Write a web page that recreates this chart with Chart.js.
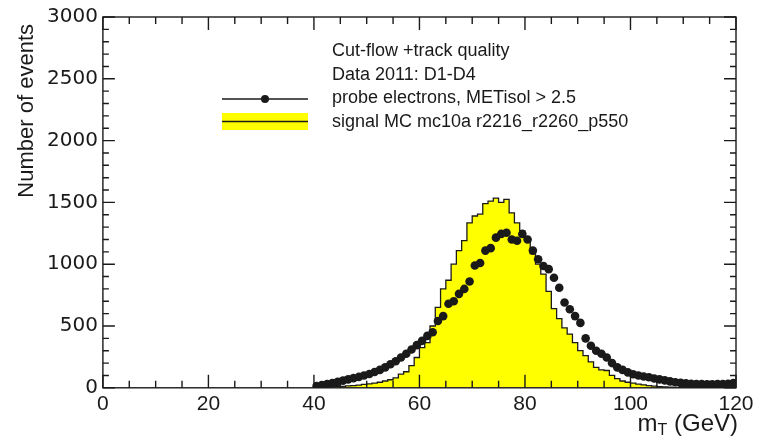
<!DOCTYPE html>
<html lang="en">
<head>
<meta charset="UTF-8">
<title>Transverse mass, probe electrons</title>
<script src="https://cdn.jsdelivr.net/npm/chart.js"></script>
<style>
  html, body { margin: 0; padding: 0; background: #fff; }
  #box { width: 761px; height: 436px; }
</style>
</head>
<body>
<div id="box"><canvas id="mtChart"></canvas></div>

<script>
// bin centres in GeV (1 GeV bins from 40 to 120)
const mtBins = [
  40.5, 41.5, 42.5, 43.5, 44.5, 45.5, 46.5, 47.5, 48.5, 49.5,
  50.5, 51.5, 52.5, 53.5, 54.5, 55.5, 56.5, 57.5, 58.5, 59.5,
  60.5, 61.5, 62.5, 63.5, 64.5, 65.5, 66.5, 67.5, 68.5, 69.5,
  70.5, 71.5, 72.5, 73.5, 74.5, 75.5, 76.5, 77.5, 78.5, 79.5,
  80.5, 81.5, 82.5, 83.5, 84.5, 85.5, 86.5, 87.5, 88.5, 89.5,
  90.5, 91.5, 92.5, 93.5, 94.5, 95.5, 96.5, 97.5, 98.5, 99.5,
  100.5, 101.5, 102.5, 103.5, 104.5, 105.5, 106.5, 107.5, 108.5, 109.5,
  110.5, 111.5, 112.5, 113.5, 114.5, 115.5, 116.5, 117.5, 118.5, 119.5
];

// signal MC (yellow histogram)
const mcSignal = [
  3, 4, 5, 6, 8, 10, 12, 15, 18, 22,
  28, 32, 38, 45, 55, 65, 80, 110, 130, 180,
  245, 325, 365, 500, 650, 800, 870, 1000, 1110, 1190,
  1335, 1390, 1405, 1490, 1510, 1535, 1500, 1525, 1415, 1335,
  1270, 1190, 1085, 1000, 920, 780, 640, 560, 485, 435,
  365, 300, 260, 210, 165, 145, 140, 100, 75, 55,
  45, 38, 30, 24, 18, 14, 10, 7, 5, 4,
  3, 3, 2, 2, 2, 2, 2, 1, 1, 1
];

// probe electrons, METisol > 2.5 (data points)
const probeData = [
  15, 22, 30, 38, 48, 58, 68, 78, 88, 100,
  112, 128, 145, 165, 190, 215, 245, 275, 310, 345,
  380, 420, 450, 540, 580, 680, 700, 760, 800, 860,
  990, 1010, 1110, 1130, 1215, 1245, 1255, 1200, 1190, 1245,
  1200, 1110, 1040, 985, 960, 890, 810, 690, 635, 580,
  525, 400, 340, 300, 275, 245, 200, 165, 145, 125,
  110, 100, 92, 85, 75, 68, 60, 52, 45, 40,
  36, 33, 30, 30, 28, 28, 30, 30, 32, 38
];

const xTickValues = [0, 20, 40, 60, 80, 100, 120];
const yTickValues = [0, 500, 1000, 1500, 2000, 2500, 3000];

const yTitle = 'Number of events';
const legendHeader = ['Cut-flow +track quality', 'Data 2011: D1-D4'];
const legendData = 'probe electrons, METisol > 2.5';
const legendMC = 'signal MC mc10a r2216_r2260_p550';

const ink = '#1a1a1a';
const sans = '"Liberation Sans", Arial, sans-serif';

// histogram outline: low edge of each bin, closed at the upper edge
const histPoints = mtBins.map((c, i) => ({ x: c - 0.5, y: mcSignal[i] }));
histPoints.push({ x: mtBins[mtBins.length - 1] + 0.5, y: mcSignal[mcSignal.length - 1] });

const dataPoints = mtBins.map((c, i) => ({ x: c, y: probeData[i] }));

// frame, inward ticks on all four sides, axis titles and legend
const rootFrame = {
  id: 'rootFrame',
  afterDatasetsDraw(chart) {
    const { ctx, chartArea: a, scales: { x, y } } = chart;
    ctx.save();
    ctx.strokeStyle = ink;
    ctx.lineWidth = 1.4;
    ctx.strokeRect(a.left, a.top, a.right - a.left, a.bottom - a.top);

    ctx.beginPath();
    for (let v = 0; v <= 120; v += 5) {
      const px = x.getPixelForValue(v);
      const len = v % 20 === 0 ? 13 : 7;
      ctx.moveTo(px, a.bottom); ctx.lineTo(px, a.bottom - len);
      ctx.moveTo(px, a.top); ctx.lineTo(px, a.top + len);
    }
    for (let v = 0; v <= 3000; v += 100) {
      const py = y.getPixelForValue(v);
      const len = v % 500 === 0 ? 12 : 6;
      ctx.moveTo(a.left, py); ctx.lineTo(a.left + len, py);
      ctx.moveTo(a.right, py); ctx.lineTo(a.right - len, py);
    }
    ctx.stroke();

    ctx.fillStyle = ink;

    // y axis title, rotated, ending near the top of the axis
    ctx.save();
    ctx.translate(33, a.top + 7);
    ctx.rotate(-Math.PI / 2);
    ctx.font = '22px ' + sans;
    ctx.textAlign = 'right';
    ctx.textBaseline = 'alphabetic';
    ctx.fillText(yTitle, 0, 0);
    ctx.restore();

    // x axis title m_T (GeV), right aligned under the axis end
    ctx.textBaseline = 'alphabetic';
    const base = a.bottom + 43;
    ctx.font = '24px ' + sans;
    const w1 = ctx.measureText('m').width;
    const w3 = ctx.measureText(' (GeV)').width;
    ctx.font = '16px ' + sans;
    const w2 = ctx.measureText('T').width;
    const tx = a.right + 2 - (w1 + w2 + w3);
    ctx.font = '24px ' + sans;
    ctx.fillText('m', tx, base);
    ctx.font = '16px ' + sans;
    ctx.fillText('T', tx + w1, base + 4);
    ctx.font = '24px ' + sans;
    ctx.fillText(' (GeV)', tx + w1 + w2, base);

    // legend
    ctx.font = '18px ' + sans;
    ctx.textBaseline = 'middle';
    const lx = 332;
    ctx.fillText(legendHeader[0], lx, 51);
    ctx.fillText(legendHeader[1], lx, 75);
    ctx.fillText(legendData, lx, 98);
    ctx.fillText(legendMC, lx, 122);

    ctx.lineWidth = 1.5;
    ctx.beginPath();
    ctx.moveTo(222, 99); ctx.lineTo(308, 99);
    ctx.stroke();
    ctx.beginPath();
    ctx.arc(265, 99, 4, 0, Math.PI * 2);
    ctx.fill();

    ctx.fillStyle = '#ffff00';
    ctx.fillRect(222, 113, 86, 17);
    ctx.beginPath();
    ctx.moveTo(222, 121.5); ctx.lineTo(308, 121.5);
    ctx.stroke();
    ctx.restore();
  }
};

new Chart(document.getElementById('mtChart'), {
  type: 'scatter',
  data: {
    datasets: [
      {
        type: 'line',
        label: legendMC,
        data: histPoints,
        stepped: 'after',
        fill: 'origin',
        backgroundColor: '#ffff00',
        borderColor: ink,
        borderWidth: 1.3,
        pointRadius: 0,
        order: 2
      },
      {
        label: legendData,
        data: dataPoints,
        pointRadius: 4.3,
        pointBackgroundColor: ink,
        pointBorderWidth: 0,
        showLine: false,
        order: 1
      }
    ]
  },
  options: {
    responsive: true,
    maintainAspectRatio: false,
    animation: false,
    layout: { padding: { left: 42, right: 25, top: 5, bottom: 15 } },
    plugins: {
      legend: { display: false },
      tooltip: { enabled: false }
    },
    scales: {
      x: {
        type: 'linear',
        min: 0,
        max: 120,
        afterBuildTicks: s => { s.ticks = xTickValues.map(v => ({ value: v })); },
        grid: { display: false, drawTicks: false },
        border: { display: false },
        ticks: { color: ink, font: { family: sans, size: 21 }, padding: 4, maxRotation: 0 }
      },
      y: {
        min: 0,
        max: 3000,
        afterBuildTicks: s => { s.ticks = yTickValues.map(v => ({ value: v })); },
        grid: { display: false, drawTicks: false },
        border: { display: false },
        ticks: {
          color: ink,
          font: { family: '"DejaVu Sans", sans-serif', size: 20 },
          padding: 5,
          callback: v => String(v)
        }
      }
    }
  },
  plugins: [rootFrame]
});
</script>
</body>
</html>
